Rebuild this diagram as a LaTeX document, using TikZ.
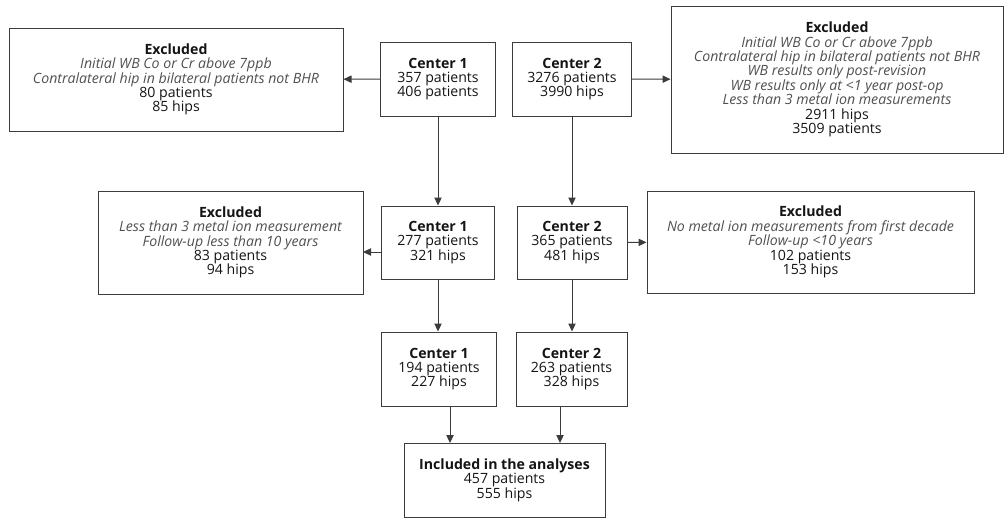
\documentclass[tikz,border=0pt]{standalone}
\usepackage{fontspec}
\setmainfont{Open Sans}
\usepackage{xcolor}
\usetikzlibrary{arrows.meta,positioning}
\definecolor{frameGray}{RGB}{60,60,60}
\definecolor{noteGray}{RGB}{80,80,80}
\definecolor{textBlack}{RGB}{20,20,20}
\newcommand{\crit}[1]{\textcolor{noteGray}{\itshape #1}}

\begin{document}
\begin{tikzpicture}[x=0.75pt,y=-0.75pt,
  flowbox/.style={draw=frameGray,line width=.75pt,align=center,inner sep=2pt,
    text=textBlack,font=\fontsize{10.6}{10.8}\selectfont},
  flowarrow/.style={draw=frameGray,line width=.75pt,-{Triangle[length=6pt,width=5.5pt]}}]
\useasboundingbox (0,0) rectangle (1005,518);
\node[flowbox,minimum width=250.5pt,minimum height=77.25pt] (exTopL) at (176,79.5) {\textbf{Excluded}\\
\crit{Initial WB Co or Cr above 7ppb}\\
\crit{Contralateral hip in bilateral patients not BHR}\\
80 patients\\85 hips};
\node[flowbox,minimum width=86.25pt,minimum height=55.5pt] (cOneTop) at (438,79) {\textbf{Center 1}\\357 patients\\406 patients};
\node[flowbox,minimum width=89.25pt,minimum height=55.5pt] (cTwoTop) at (572,79) {\textbf{Center 2}\\3276 patients\\3990 hips};
\node[flowbox,minimum width=249pt,minimum height=110.25pt] (exTopR) at (837,79.5) {\textbf{Excluded}\\
\crit{Initial WB Co or Cr above 7ppb}\\
\crit{Contralateral hip in bilateral patients not BHR}\\
\crit{WB results only post-revision}\\
\crit{WB results only at <1 year post-op}\\
\crit{Less than 3 metal ion measurements}\\
2911 hips\\3509 patients};
\node[flowbox,minimum width=198.75pt,minimum height=77.25pt] (exMidL) at (230.5,242.5) {\textbf{Excluded}\\
\crit{Less than 3 metal ion measurement}\\
\crit{Follow-up less than 10 years}\\
83 patients\\94 hips};
\node[flowbox,minimum width=84.75pt,minimum height=54.75pt] (cOneMid) at (438,242.5) {\textbf{Center 1}\\277 patients\\321 hips};
\node[flowbox,minimum width=82.5pt,minimum height=54.75pt] (cTwoMid) at (572,242.5) {\textbf{Center 2}\\365 patients\\481 hips};
\node[flowbox,minimum width=245.25pt,minimum height=76.5pt] (exMidR) at (810.5,242) {\textbf{Excluded}\\
\crit{No metal ion measurements from first decade}\\
\crit{Follow-up <10 years}\\
102 patients\\153 hips};
\node[flowbox,minimum width=86.25pt,minimum height=55.5pt] (cOneBot) at (439,369) {\textbf{Center 1}\\194 patients\\227 hips};
\node[flowbox,minimum width=83.25pt,minimum height=55.5pt] (cTwoBot) at (571.5,369) {\textbf{Center 2}\\263 patients\\328 hips};
\node[flowbox,minimum width=150.75pt,minimum height=55.5pt] (incl) at (504.5,480) {\textbf{Included in the analyses}\\457 patients\\555 hips};
\coordinate (inOne) at (450,443);
\coordinate (inTwo) at (560,443);
\coordinate (exLow) at (363,252);
\draw[flowarrow] (cOneTop) -- (exTopL);
\draw[flowarrow] (cTwoTop) -- (exTopR);
\draw[flowarrow] (cOneTop) -- (cOneMid);
\draw[flowarrow] (cTwoTop) -- (cTwoMid);
\draw[flowarrow] (cOneMid.west |- exLow) -- (exLow);
\draw[flowarrow] (cTwoMid) -- (exMidR);
\draw[flowarrow] (cOneMid) -- (cOneMid |- cOneBot.north);
\draw[flowarrow] (cTwoMid) -- (cTwoMid |- cTwoBot.north);
\draw[flowarrow] (cOneBot.south -| inOne) -- (inOne);
\draw[flowarrow] (cTwoBot.south -| inTwo) -- (inTwo);
\end{tikzpicture}
\end{document}
